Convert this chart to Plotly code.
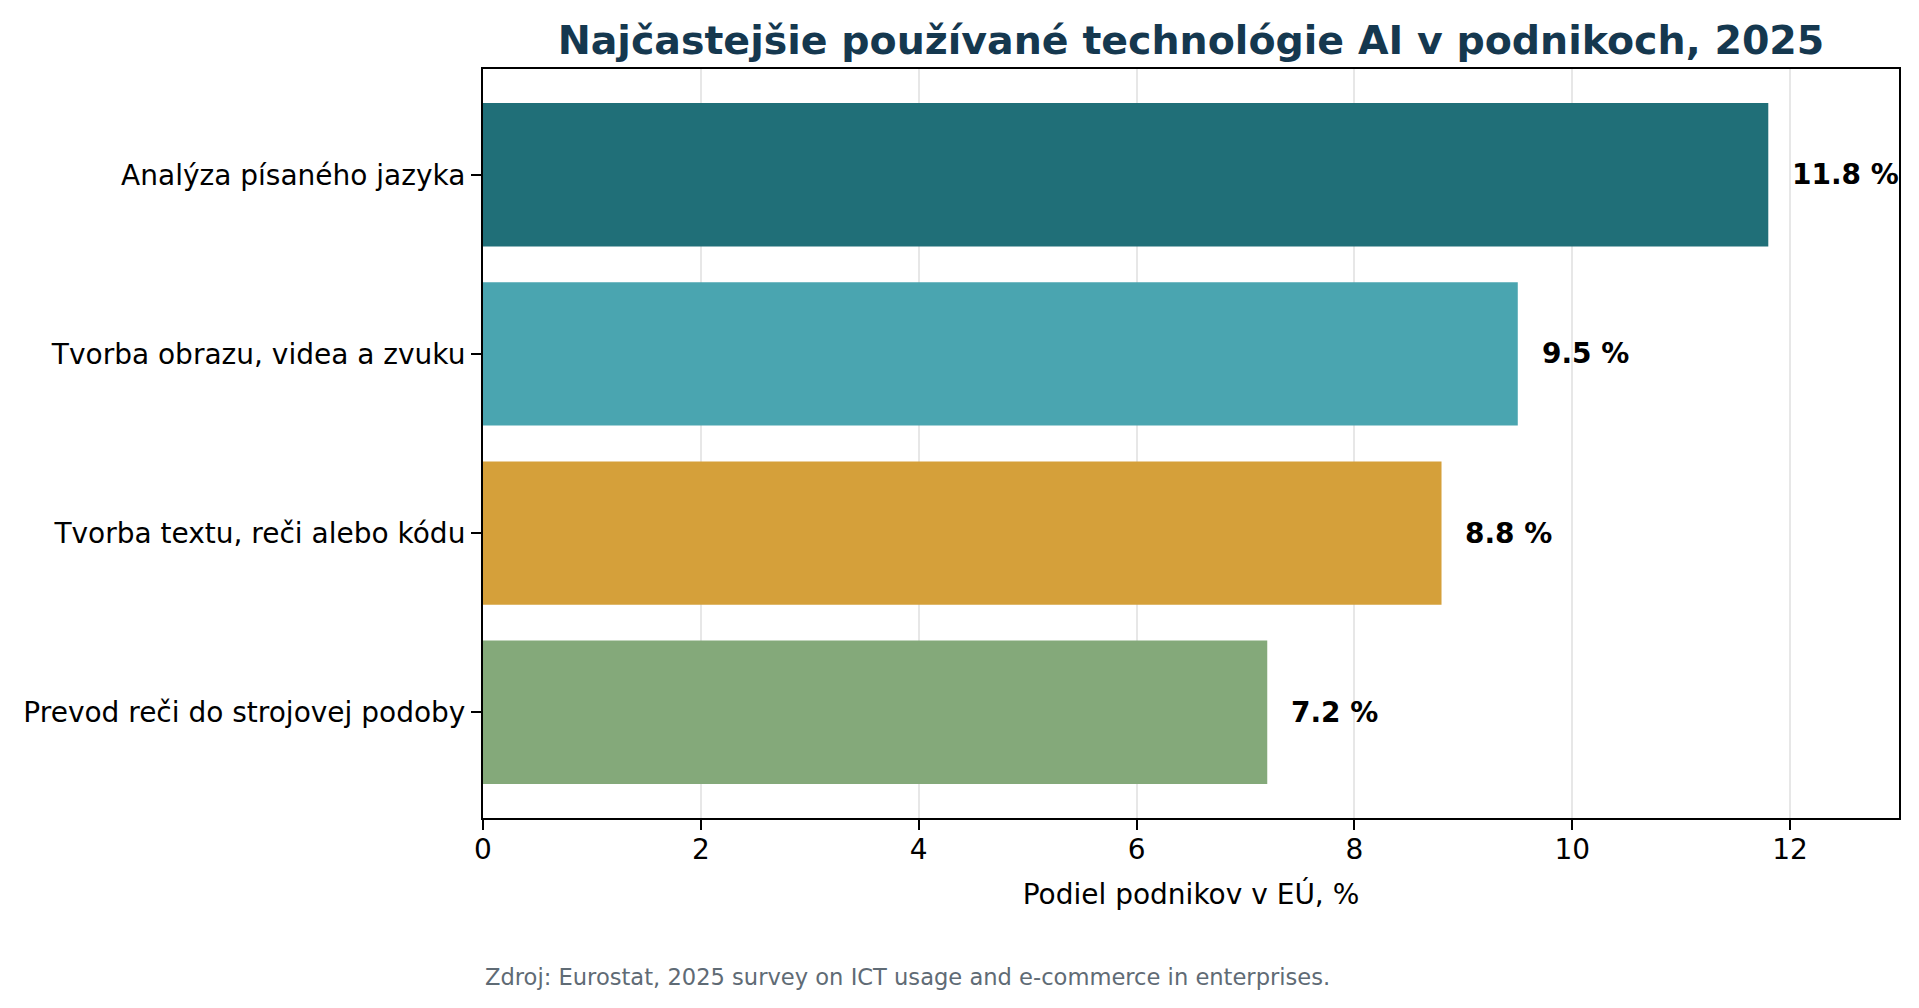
import plotly.graph_objects as go

categories = [
    "Analýza písaného jazyka",
    "Tvorba obrazu, videa a zvuku",
    "Tvorba textu, reči alebo kódu",
    "Prevod reči do strojovej podoby",
]
values = [11.8, 9.5, 8.8, 7.2]
bar_colors = ["#206f78", "#4aa5b0", "#d5a03a", "#84a97a"]
x_ticks = [0, 2, 4, 6, 8, 10, 12]

title_text = "Najčastejšie používané technológie AI v podnikoch, 2025"
x_title = "Podiel podnikov v EÚ, %"
source_text = "Zdroj: Eurostat, 2025 survey on ICT usage and e-commerce in enterprises."

font = "DejaVu Sans"

fig = go.Figure()
fig.add_trace(
    go.Bar(
        x=values,
        y=categories,
        orientation="h",
        width=0.8,
        marker=dict(color=bar_colors, line=dict(width=0)),
        hoverinfo="x+y",
    )
)

# popisky hodnot vpravo od stĺpcov
for cat, val in zip(categories, values):
    fig.add_annotation(
        x=val + 0.2,
        y=cat,
        text=f"<b>{val:.1f} %</b>",
        showarrow=False,
        xanchor="left",
        yanchor="middle",
        font=dict(family=font, size=28, color="black"),
    )

fig.add_annotation(
    x=0,
    y=-0.212,
    xref="paper",
    yref="paper",
    text=source_text,
    showarrow=False,
    xanchor="left",
    yanchor="middle",
    font=dict(family=font, size=22.6, color="#5f6b75"),
)

n = len(categories)
# stránka má okraj 8 px, preto je obrázok o to menší
fig.update_layout(
    width=1911,
    height=1000,
    margin=dict(l=475, r=20, t=61, b=190),
    paper_bgcolor="white",
    plot_bgcolor="white",
    showlegend=False,
    font=dict(family=font, size=28, color="black"),
    title=dict(
        text=f"<b>{title_text}</b>",
        x=0.5,
        xref="paper",
        y=1 - 32 / 1000,
        yref="container",
        xanchor="center",
        yanchor="middle",
        font=dict(family=font, size=39.5, color="#15384f"),
    ),
    xaxis=dict(
        range=[0, 13],
        tickvals=x_ticks,
        showgrid=True,
        gridcolor="rgba(176,176,176,0.3)",
        gridwidth=2,
        zeroline=False,
        showline=True,
        linecolor="black",
        linewidth=2,
        mirror=True,
        ticks="outside",
        ticklen=10,
        tickwidth=2,
        tickcolor="black",
        tickfont=dict(family=font, size=28),
        ticklabelstandoff=-5,
        title=dict(text=x_title, font=dict(family=font, size=28), standoff=20),
        layer="above traces",
    ),
    yaxis=dict(
        type="category",
        categoryorder="array",
        categoryarray=categories,
        range=[n - 1 + 0.59, -0.59],
        showgrid=False,
        zeroline=False,
        showline=True,
        linecolor="black",
        linewidth=2,
        mirror=True,
        ticks="outside",
        ticklen=10,
        tickwidth=2,
        tickcolor="black",
        tickfont=dict(family=font, size=28),
        layer="above traces",
    ),
)

fig.write_html("out.html")
